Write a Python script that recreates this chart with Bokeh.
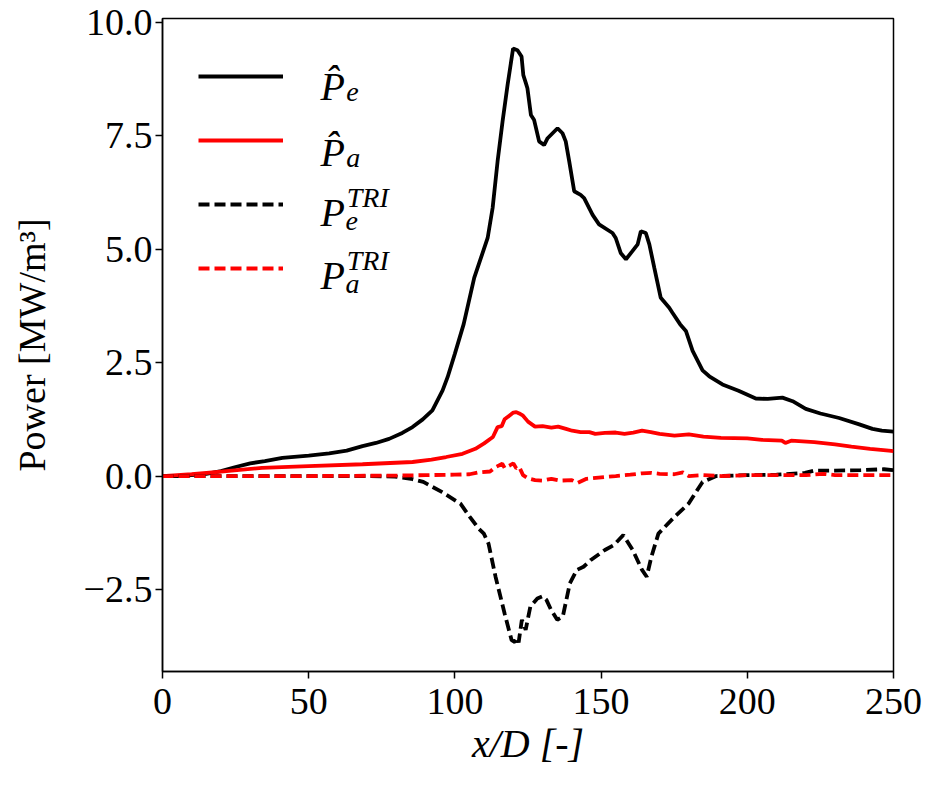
from bokeh.plotting import figure
from bokeh.models import (Range1d, FixedTicker, CustomJSTickFormatter, Legend,
                          LegendItem, Label)
from bokeh.embed import file_html
from bokeh.resources import INLINE

# ---- data ----
x_pe = [0, 5, 10, 15, 20, 25, 30, 35, 41, 50, 57, 63, 68.4, 73, 77.5, 82, 85.5,
        89, 92.3, 95.8, 97.5, 100, 103, 106.6, 108.9, 111.2, 112.9, 114.6, 116.3,
        118, 119.9, 121.4, 122.8, 123.4, 124.3, 124.8, 126, 127.1, 128.8, 130.5,
        131.7, 133.4, 135.1, 136.8, 137.9, 139.1, 140.8, 143, 144.2, 147.1, 149.3,
        153.9, 155, 156.7, 158.5, 160.7, 162.5, 163.6, 165.3, 166.5, 168.2, 170.4,
        173.3, 174.4, 177, 179, 181.3, 184.7, 187, 191.5, 197, 202.9, 207, 212,
        215.5, 220, 225, 231.4, 238.3, 242.8, 246, 250]
y_pe = [0, 0.0, 0.02, 0.05, 0.11, 0.2, 0.28, 0.33, 0.40, 0.45, 0.5, 0.56, 0.66,
        0.73, 0.82, 0.95, 1.08, 1.25, 1.45, 1.89, 2.18, 2.7, 3.35, 4.37, 4.81,
        5.25, 5.91, 6.94, 7.82, 8.62, 9.43, 9.39, 9.25, 8.84, 8.66, 8.55, 7.96,
        7.85, 7.38, 7.30, 7.45, 7.56, 7.67, 7.56, 7.38, 6.94, 6.28, 6.2, 6.13,
        5.76, 5.55, 5.36, 5.25, 4.92, 4.78, 4.96, 5.11, 5.40, 5.36, 5.11, 4.59,
        3.93, 3.71, 3.6, 3.35, 3.2, 2.76, 2.33, 2.2, 2.02, 1.88, 1.71, 1.70, 1.73,
        1.65, 1.48, 1.38, 1.28, 1.14, 1.04, 1.0, 0.98]

x_pa = [0, 10, 20, 34, 50, 68.4, 85.5, 92, 97, 102.6, 107, 110, 113, 114.6, 116,
        117, 118.6, 120, 121, 122, 123.3, 125, 127.4, 130, 133, 135.3, 138, 140.1,
        143, 146, 148, 151.3, 155, 158, 161, 164, 167, 170, 175.1, 180, 185, 191,
        200, 205, 211.8, 213, 215, 222.9, 230, 235.6, 242, 248.4, 250]
y_pa = [0, 0.04, 0.1, 0.18, 0.22, 0.26, 0.31, 0.36, 0.42, 0.49, 0.6, 0.72, 0.86,
        1.08, 1.1, 1.25, 1.33, 1.40, 1.41, 1.38, 1.33, 1.2, 1.09, 1.10, 1.07, 1.09,
        1.04, 1.0, 0.97, 0.97, 0.93, 0.95, 0.96, 0.93, 0.96, 1.0, 0.97, 0.93, 0.89,
        0.92, 0.87, 0.84, 0.83, 0.80, 0.78, 0.73, 0.78, 0.75, 0.70, 0.65, 0.6,
        0.56, 0.55]

x_pe_tri = [0, 40, 70, 79.4, 85, 89.2, 95.5, 101.9, 105.1, 108, 109.9, 111.5,
            113.9, 117, 119.4, 120.5, 121.3, 121.8, 122.9, 124.2, 125.8, 128.2,
            130, 131.3, 132.9, 135, 136.9, 139.3, 141.7, 144, 146.5, 151.3, 154.4,
            157.6, 160.8, 164, 165.6, 167.2, 169.6, 175.1, 179.9, 184.7, 189.4,
            200, 210, 219.7, 222.9, 230, 238.8, 246.7, 250]
y_pe_tri = [0, 0, 0.0, -0.01, -0.06, -0.13, -0.35, -0.61, -0.9, -1.15, -1.27,
            -1.49, -2.22, -3.03, -3.62, -3.66, -3.57, -3.67, -3.17, -3.39, -2.88,
            -2.70, -2.65, -2.73, -2.95, -3.17, -3.1, -2.37, -2.07, -2.0, -1.85,
            -1.63, -1.52, -1.30, -1.63, -2.07, -2.22, -1.78, -1.27, -0.9, -0.61,
            -0.13, 0.0, 0.02, 0.03, 0.07, 0.12, 0.12, 0.13, 0.15, 0.13]

x_pa_tri = [0, 50, 80, 90, 100, 105, 108, 112, 114, 116.2, 117, 118.9, 120, 121,
            122, 123.3, 125, 127.4, 130, 133, 136, 140, 142, 145, 151.3, 155, 160,
            164, 167.2, 170, 175, 178, 180, 185, 191, 200, 210, 220, 226, 230, 240,
            250]
y_pa_tri = [0, 0, 0.01, 0.02, 0.03, 0.04, 0.08, 0.1, 0.2, 0.27, 0.18, 0.24, 0.28,
            0.17, 0.2, 0.02, -0.05, -0.09, -0.1, -0.06, -0.1, -0.09, -0.15, -0.06,
            -0.02, 0.0, 0.03, 0.06, 0.07, 0.05, 0.04, 0.08, 0.0, 0.02, 0.0, 0.02,
            0.02, 0.02, 0.05, 0.02, 0.02, 0.02]

x_ticks = [0, 50, 100, 150, 200, 250]
y_ticks = [-2.5, 0.0, 2.5, 5.0, 7.5, 10.0]

FONT = "Liberation Serif"

p = figure(width=922, height=778, output_backend="svg", toolbar_location=None,
           x_range=Range1d(0, 250), y_range=Range1d(-4.31, 10.09),
           min_border_left=162, min_border_right=29, min_border_top=18,
           min_border_bottom=107)
p.grid.visible = False
p.outline_line_color = "black"
p.outline_line_width = 1.5
p.outline_line_alpha = 1.0
p.background_fill_color = "white"
p.border_fill_color = "white"

for ax in (p.xaxis[0], p.yaxis[0]):
    ax.axis_line_width = 1.5
    ax.axis_line_color = "black"
    ax.major_tick_line_width = 1.5
    ax.major_tick_line_color = "black"
    ax.major_tick_out = 7
    ax.major_tick_in = 0
    ax.minor_tick_line_color = None
    ax.major_label_text_font = FONT
    ax.major_label_text_font_size = "38px"
    ax.major_label_text_color = "black"

p.xaxis[0].major_label_standoff = 10
p.yaxis[0].major_label_standoff = 3

p.xaxis[0].ticker = FixedTicker(ticks=x_ticks)
p.yaxis[0].ticker = FixedTicker(ticks=y_ticks)
p.yaxis[0].formatter = CustomJSTickFormatter(
    code="return (tick < 0 ? '\u2212' : '') + Math.abs(tick).toFixed(1);")

p.yaxis[0].axis_label = "Power [MW/m³]"
p.yaxis[0].axis_label_text_font = FONT
p.yaxis[0].axis_label_text_font_size = "38px"
p.yaxis[0].axis_label_text_font_style = "normal"
p.yaxis[0].axis_label_text_color = "black"
p.yaxis[0].axis_label_standoff = 28

p.xaxis[0].axis_label = "x/D [-]"
p.xaxis[0].axis_label_text_font = FONT
p.xaxis[0].axis_label_text_font_size = "40px"
p.xaxis[0].axis_label_text_font_style = "italic"
p.xaxis[0].axis_label_text_color = "black"
p.xaxis[0].axis_label_standoff = 4

LW = 3.8
r1 = p.line(x_pe, y_pe, line_color="black", line_width=LW)
r2 = p.line(x_pa, y_pa, line_color="red", line_width=LW)
r3 = p.line(x_pe_tri, y_pe_tri, line_color="black", line_width=LW, line_dash="11 5")
r4 = p.line(x_pa_tri, y_pa_tri, line_color="red", line_width=LW, line_dash="11 5")

legend = Legend(items=[LegendItem(label=" ", renderers=[r]) for r in (r1, r2, r3, r4)],
                location="top_left", margin=0, padding=36, glyph_width=85,
                glyph_height=44, label_height=44, spacing=20,
                label_text_font_size="10px", border_line_alpha=0,
                background_fill_alpha=0)
p.add_layout(legend)

def lab(x, y, text, size, italic=True, align="left"):
    p.add_layout(Label(x=x, y=y, text=text, text_font=FONT,
                       text_font_style="italic" if italic else "normal",
                       text_font_size=size, text_baseline="alphabetic",
                       text_align=align, text_color="black"))

# legend texts
lab(54.0, 8.593, "P\u0302", "40px")
lab(62.8, 8.48, "e", "28px")
lab(54.0, 7.143, "P\u0302", "40px")
lab(62.8, 7.03, "a", "28px")
lab(54.0, 5.802, "P", "40px")
lab(63.0, 6.132, "TRI", "28px")
lab(62.6, 5.63, "e", "28px")
lab(54.0, 4.418, "P", "40px")
lab(63.0, 4.747, "TRI", "28px")
lab(62.6, 4.24, "a", "28px")

open("out.html", "w").write(file_html(p, INLINE))
